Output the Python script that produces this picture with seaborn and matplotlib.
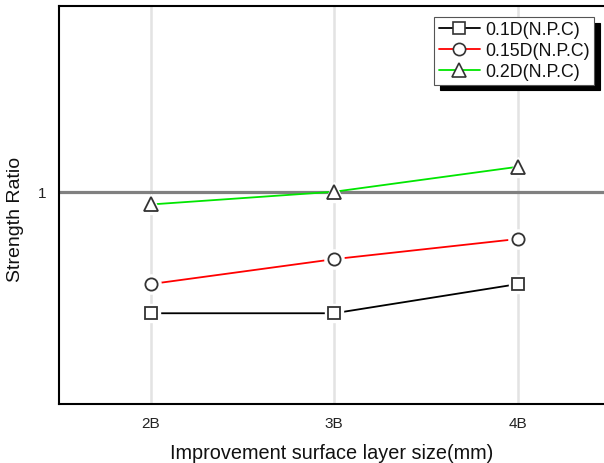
import matplotlib
matplotlib.use("Agg")
import matplotlib.pyplot as plt
import seaborn as sns
import pandas as pd
from matplotlib.lines import Line2D

categories = ["2B", "3B", "4B"]
series_names = ["0.1D(N.P.C)", "0.15D(N.P.C)", "0.2D(N.P.C)"]
vals_01 = [0.771, 0.771, 0.826]
vals_015 = [0.826, 0.873, 0.911]
vals_02 = [0.976, 1.0, 1.047]
y_ticks = [1]
y_tick_labels = ["1"]

colors = {"0.1D(N.P.C)": "#000000", "0.15D(N.P.C)": "#ff0000", "0.2D(N.P.C)": "#00e600"}
markers = {"0.1D(N.P.C)": "s", "0.15D(N.P.C)": "o", "0.2D(N.P.C)": "^"}
msizes = {"0.1D(N.P.C)": 8.6, "0.15D(N.P.C)": 8.8, "0.2D(N.P.C)": 10.0}

rows = []
for name, vals in zip(series_names, [vals_01, vals_015, vals_02]):
    for i, (c, v) in enumerate(zip(categories, vals)):
        rows.append({"pos": i, "cat": c, "series": name, "value": v})
df = pd.DataFrame(rows)

sns.set_style("white")
plt.rcParams["font.family"] = ["Liberation Sans", "DejaVu Sans"]

fig = plt.figure(figsize=(6.04, 4.64), dpi=100)
ax = fig.add_axes([59 / 604, 1 - 405 / 464, 1 - 59 / 604, (405 - 7) / 464])

# lines only
sns.lineplot(data=df, x="pos", y="value", hue="series", palette=colors,
             hue_order=series_names, legend=False, ax=ax, linewidth=1.3,
             zorder=3)

# white halos then markers
for name in series_names:
    sub = df[df["series"] == name]
    ax.plot(sub["pos"], sub["value"], ls="none", marker=markers[name],
            ms=msizes[name] + 5, mfc="white", mec="white", zorder=4)
    ax.plot(sub["pos"], sub["value"], ls="none", marker=markers[name],
            ms=msizes[name], mfc="white", mec="#333333", mew=1.3, zorder=5)

ax.axhline(1.0, color="#808080", lw=2.3, zorder=2)

ax.set_xlim(-0.5, 2.47)
ax.set_ylim(0.6, 1.35)
ax.set_xticks(range(len(categories)))
ax.set_xticklabels(categories)
ax.set_yticks(y_ticks)
ax.set_yticklabels(y_tick_labels)
ax.tick_params(axis="both", length=0, labelsize=11, colors="#222222")
ax.tick_params(axis="x", pad=9)
ax.tick_params(axis="y", pad=9)
ax.xaxis.grid(True, color="#e3e3e3", lw=1.8, zorder=0)
ax.yaxis.grid(False)
ax.set_axisbelow(True)

for s in ["left", "bottom", "top"]:
    ax.spines[s].set_color("black")
    ax.spines[s].set_linewidth(1.5)
ax.spines["right"].set_visible(False)

ax.set_xlabel("Improvement surface layer size(mm)", fontsize=14.3, labelpad=9, color="#111111")
ax.set_ylabel("Strength Ratio", fontsize=14, color="#111111")
ax.yaxis.set_label_coords(-0.064, 0.465)

handles = [Line2D([], [], color=colors[n], lw=1.3, marker=markers[n],
                  ms=msizes[n], mfc="white", mec="#333333", mew=1.2)
           for n in series_names]
leg = ax.legend(handles, series_names, loc="upper right",
                bbox_to_anchor=(594 / 604, 1 - 18 / 464), bbox_transform=fig.transFigure,
                fontsize=12.8, frameon=True, fancybox=False, framealpha=1,
                edgecolor="#555555", borderpad=0.25, labelspacing=0.22,
                handlelength=2.3, handletextpad=0.3, borderaxespad=0,
                shadow={"ox": 4.3, "oy": -4.0, "color": "black", "alpha": 1})
leg.get_frame().set_linewidth(0.8)
for t in leg.get_texts():
    t.set_color("#111111")

fig.savefig("out.png", dpi=100)
